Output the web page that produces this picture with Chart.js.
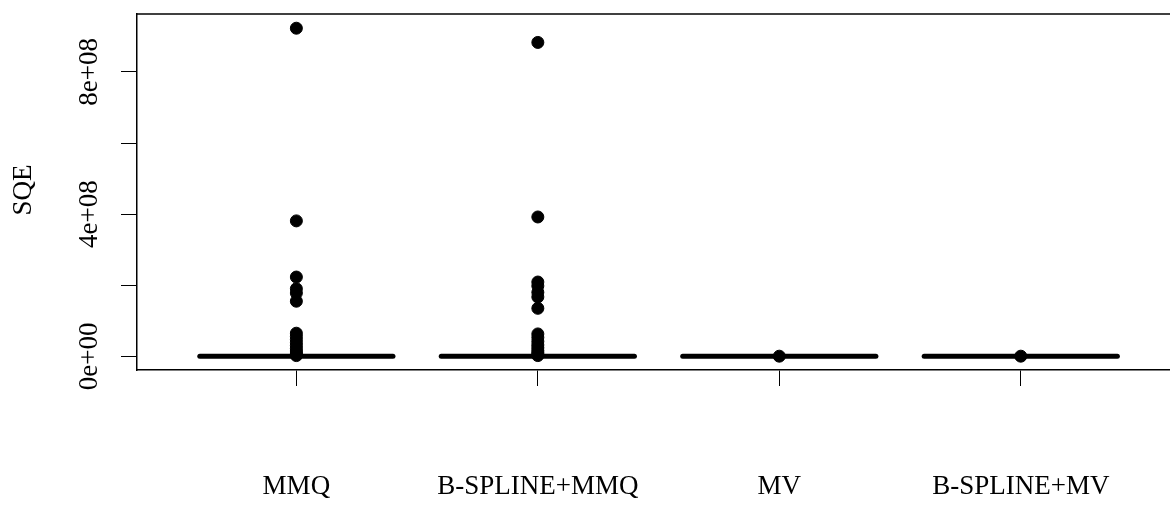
<!DOCTYPE html>
<html>
<head>
<meta charset="utf-8">
<script src="https://cdn.jsdelivr.net/npm/chart.js@4/dist/chart.umd.min.js"></script>
<style>
  html, body { margin: 0; padding: 0; background: #fff; overflow: hidden; }
  canvas { display: block; }
</style>
</head>
<body>
<canvas id="sqe-chart" width="1170" height="505"></canvas>
<script>
// categories and values
const categories = ['MMQ', 'B-SPLINE+MMQ', 'MV', 'B-SPLINE+MV'];
const medians = [150000, 150000, 20000, 20000];

const outliersMMQ = [9.23e8, 3.81e8, 2.23e8, 1.9e8, 1.78e8, 1.55e8,
    0.65e8, 0.56e8, 0.47e8, 0.38e8, 0.3e8, 0.22e8, 0.15e8, 0.09e8, 0.05e8, 0.02e8];
const outliersBsplineMMQ = [8.83e8, 3.92e8, 2.09e8, 1.98e8, 1.8e8, 1.67e8, 1.35e8,
    0.63e8, 0.53e8, 0.42e8, 0.32e8, 0.24e8, 0.16e8, 0.1e8, 0.05e8, 0.02e8];
const outliersMV = [0.004e8];
const outliersBsplineMV = [0.004e8];

const yTickValues = [0, 2e8, 4e8, 6e8, 8e8];
const yTickLabels = ['0e+00', '', '4e+08', '', '8e+08'];
const yTitle = 'SQE';

const FONT = '"Liberation Serif", "DejaVu Serif", serif';
const FONT_SIZE = 27;

// build datasets
const allOutliers = [outliersMMQ, outliersBsplineMMQ, outliersMV, outliersBsplineMV];
const pointData = [];
allOutliers.forEach((list, i) => {
    list.forEach(v => pointData.push({ x: i + 1, y: v }));
});

const medianSets = medians.map((m, i) => ({
    type: 'line',
    label: categories[i],
    data: [{ x: i + 1 - 0.4, y: m }, { x: i + 1 + 0.4, y: m }],
    borderColor: '#000',
    borderWidth: 5,
    borderCapStyle: 'round',
    pointRadius: 0,
    fill: false
}));

// frame top line + rotated y labels + axis title
const decorations = {
    id: 'decorations',
    afterDraw(chart) {
        const ctx = chart.ctx;
        const area = chart.chartArea;
        const yScale = chart.scales.y;
        ctx.save();
        ctx.strokeStyle = '#000';
        ctx.lineWidth = 1.5;
        ctx.beginPath();
        ctx.moveTo(area.left, area.top);
        ctx.lineTo(area.right, area.top);
        ctx.stroke();

        ctx.fillStyle = '#000';
        ctx.font = FONT_SIZE + 'px ' + FONT;
        ctx.textAlign = 'center';
        ctx.textBaseline = 'middle';
        yTickValues.forEach((v, i) => {
            if (!yTickLabels[i]) return;
            const py = yScale.getPixelForValue(v);
            ctx.save();
            ctx.translate(90, py);
            ctx.rotate(-Math.PI / 2);
            ctx.fillText(yTickLabels[i], 0, 0);
            ctx.restore();
        });

        ctx.save();
        ctx.translate(24, 190);
        ctx.rotate(-Math.PI / 2);
        ctx.fillText(yTitle, 0, 0);
        ctx.restore();
        ctx.restore();
    }
};

const ctx = document.getElementById('sqe-chart').getContext('2d');
new Chart(ctx, {
    data: {
        datasets: [
            ...medianSets,
            {
                type: 'scatter',
                label: 'outliers',
                data: pointData,
                backgroundColor: '#000',
                borderColor: '#000',
                pointRadius: 6,
                pointHoverRadius: 6
            }
        ]
    },
    options: {
        responsive: false,
        animation: false,
        devicePixelRatio: 1,
        layout: { autoPadding: false, padding: { left: 121, top: 14, right: 0, bottom: 0 } },
        plugins: {
            legend: { display: false },
            tooltip: { enabled: false }
        },
        scales: {
            x: {
                type: 'linear',
                min: 0.34,
                max: 4.618,
                afterBuildTicks: scale => {
                    scale.ticks = categories.map((c, i) => ({ value: i + 1 }));
                },
                afterFit: scale => {
                    scale.height = 135;
                    scale.paddingLeft = 0;
                    scale.paddingRight = 0;
                },
                ticks: {
                    autoSkip: false,
                    maxRotation: 0,
                    padding: 85,
                    color: '#000',
                    font: { family: FONT, size: FONT_SIZE },
                    callback: value => categories[value - 1]
                },
                grid: {
                    drawOnChartArea: false,
                    drawTicks: true,
                    tickLength: 16,
                    color: '#000',
                    lineWidth: 1
                },
                border: { display: true, color: '#000', width: 1.5 }
            },
            y: {
                type: 'linear',
                min: -0.385e8,
                max: 9.63e8,
                afterBuildTicks: scale => {
                    scale.ticks = yTickValues.map(v => ({ value: v }));
                },
                afterFit: scale => {
                    scale.width = 16;
                    scale.paddingTop = 0;
                    scale.paddingBottom = 0;
                },
                ticks: { display: false },
                grid: {
                    drawOnChartArea: false,
                    drawTicks: true,
                    tickLength: 16,
                    color: '#000',
                    lineWidth: 1
                },
                border: { display: true, color: '#000', width: 1.5 }
            }
        }
    },
    plugins: [decorations]
});
</script>
</body>
</html>
